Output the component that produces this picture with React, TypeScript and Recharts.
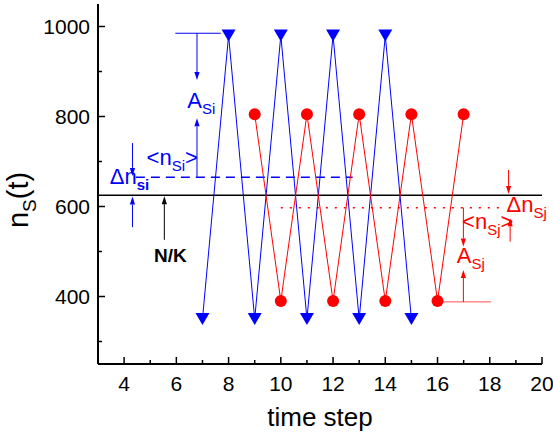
import React from 'react';
import { ComposedChart, Line, XAxis, YAxis, ReferenceLine, ReferenceDot } from 'recharts';

// values
const blueSteps = [7, 8, 9, 10, 11, 12, 13, 14, 15];
const blueValues = [350, 980, 350, 980, 350, 980, 350, 980, 350];
const redSteps = [9, 10, 11, 12, 13, 14, 15, 16, 17];
const redValues = [805, 390, 805, 390, 805, 390, 805, 390, 805];

const xTicks = [4, 5, 6, 7, 8, 9, 10, 11, 12, 13, 14, 15, 16, 17, 18, 19, 20];
const xLabelled = [4, 6, 8, 10, 12, 14, 16, 18, 20];
const yTicks = [300, 400, 500, 600, 700, 800, 900, 1000];
const yLabelled = [400, 600, 800, 1000];

const nOverK = 625;
const blueMean = 665;
const redMean = 597.5;

const BLUE = '#0000ff';
const RED = '#ff0000';
const FONT = '"Liberation Sans", Arial, sans-serif';

type Arrow = { from: [number, number]; to: [number, number]; color: string; head: boolean };
const arrows: Arrow[] = [
  { from: [5.96, 985], to: [7.7, 985], color: BLUE, head: false },
  { from: [6.79, 985], to: [6.79, 881], color: BLUE, head: true },
  { from: [6.79, blueMean], to: [6.79, 796], color: BLUE, head: true },
  { from: [4.32, 741], to: [4.32, 668], color: BLUE, head: true },
  { from: [4.32, 554], to: [4.32, 622], color: BLUE, head: true },
  { from: [5.54, 526], to: [5.54, 623], color: '#000000', head: true },
  { from: [16, 388], to: [18.06, 388], color: '#ff5050', head: false },
  { from: [16.99, 388], to: [16.99, 459], color: RED, head: true },
  { from: [16.99, redMean], to: [16.99, 511], color: RED, head: true },
  { from: [18.72, 681], to: [18.72, 628], color: RED, head: true },
  { from: [18.78, 522], to: [18.78, 574], color: RED, head: true },
];

type Note = { x: number; y: number; color: string; main: string; sub?: string; tail?: string; subBold?: boolean; bold?: boolean; anchor?: 'start' | 'middle' };
const notes: Note[] = [
  { x: 6.42, y: 820, color: BLUE, main: 'A', sub: 'Si' },
  { x: 4.86, y: 692, color: BLUE, main: '<n', sub: 'Si', tail: '>' },
  { x: 3.45, y: 650, color: BLUE, main: 'Δn', sub: 'si', subBold: true },
  { x: 5.77, y: 477, color: '#000000', main: 'N/K', bold: true, anchor: 'middle' },
  { x: 18.64, y: 587, color: RED, main: 'Δn', sub: 'Sj' },
  { x: 16.94, y: 550, color: RED, main: '<n', sub: 'Sj', tail: '>' },
  { x: 16.74, y: 474, color: RED, main: 'A', sub: 'Sj' },
];

const blueData = blueSteps.map((x, i) => ({ x, y: blueValues[i] }));
const redData = redSteps.map((x, i) => ({ x, y: redValues[i] }));

const tickText = { fontSize: 21, fontFamily: FONT, fill: '#000' };

const BottomTick = ({ x, y, payload }: any) => {
  const major = xLabelled.includes(payload.value);
  return (
    <g>
      <line x1={x} x2={x} y1={y} y2={y - (major ? 7 : 4)} stroke="#000" strokeWidth={1.5} />
      {major && (
        <text x={x} y={y + 27} textAnchor="middle" {...tickText}>
          {payload.value}
        </text>
      )}
    </g>
  );
};

const TopTick = ({ x, y, payload }: any) => {
  const major = xLabelled.includes(payload.value);
  return <line x1={x} x2={x} y1={y} y2={y + (major ? 7 : 4)} stroke="#000" strokeWidth={1.5} />;
};

const LeftTick = ({ x, y, payload }: any) => {
  const major = yLabelled.includes(payload.value);
  return (
    <g>
      <line x1={x} x2={x + (major ? 7 : 4)} y1={y} y2={y} stroke="#000" strokeWidth={1.5} />
      {major && (
        <text x={x - 8} y={y + 7.5} textAnchor="end" {...tickText}>
          {payload.value}
        </text>
      )}
    </g>
  );
};

const RightTick = ({ x, y, payload }: any) => {
  const major = yLabelled.includes(payload.value);
  return <line x1={x} x2={x - (major ? 7 : 4)} y1={y} y2={y} stroke="#000" strokeWidth={1.5} />;
};

const TriangleDown = (props: any) => {
  const { cx, cy, index } = props;
  return (
    <polygon
      key={`tri-${index}`}
      points={`${cx - 7},${cy - 6} ${cx + 7},${cy - 6} ${cx},${cy + 6}`}
      fill={BLUE}
    />
  );
};

const arrowShape = (a: Arrow) => (p: any) => {
  const { x1, y1, x2, y2 } = p;
  if (!a.head) {
    return <line x1={x1} y1={y1} x2={x2} y2={y2} stroke={a.color} strokeWidth={1} />;
  }
  const dx = x2 - x1;
  const dy = y2 - y1;
  const len = Math.hypot(dx, dy) || 1;
  const ux = dx / len;
  const uy = dy / len;
  const hl = 8;
  const hw = 2.6;
  const bx = x2 - ux * hl;
  const by = y2 - uy * hl;
  return (
    <g>
      <line x1={x1} y1={y1} x2={bx} y2={by} stroke={a.color} strokeWidth={1} />
      <polygon
        points={`${x2},${y2} ${bx - uy * hw},${by + ux * hw} ${bx + uy * hw},${by - ux * hw}`}
        fill={a.color}
      />
    </g>
  );
};

const noteShape = (n: Note) => (p: any) => (
  <text
    x={p.cx}
    y={p.cy}
    fill={n.color}
    fontFamily={FONT}
    textAnchor={n.anchor ?? 'start'}
    fontWeight={n.bold ? 'bold' : 'normal'}
  >
    <tspan fontSize={n.bold ? 19 : 22}>{n.main}</tspan>
    {n.sub && (
      <tspan fontSize={15} dy={6} fontWeight={n.subBold ? 'bold' : 'normal'}>
        {n.sub}
      </tspan>
    )}
    {n.tail && (
      <tspan fontSize={22} dy={-6}>
        {n.tail}
      </tspan>
    )}
  </text>
);

export default function App() {
  return (
    <div style={{ position: 'absolute', left: 0, top: 0, background: '#fff' }}>
      <ComposedChart width={553} height={438} margin={{ top: 4, right: 11, bottom: 0, left: 0 }}>
        <XAxis
          dataKey="x"
          type="number"
          domain={[3, 20]}
          ticks={xTicks}
          interval={0}
          height={74}
          tickSize={0}
          tickMargin={0}
          tickLine={false}
          axisLine={{ stroke: '#000', strokeWidth: 2 }}
          tick={<BottomTick />}
          label={{
            content: (lp: any) => (
              <text
                x={lp.viewBox.x + lp.viewBox.width / 2}
                y={lp.viewBox.y + 62}
                textAnchor="middle"
                fontSize={26}
                fontFamily={FONT}
                fill="#000"
              >
                time step
              </text>
            ),
          }}
        />
        <XAxis
          xAxisId="t"
          orientation="top"
          dataKey="x"
          type="number"
          domain={[3, 20]}
          ticks={xTicks}
          interval={0}
          height={0}
          tickSize={0}
          tickMargin={0}
          tickLine={false}
          axisLine={{ stroke: '#000', strokeWidth: 2 }}
          tick={<TopTick />}
        />
        <YAxis
          type="number"
          domain={[250, 1050]}
          ticks={yTicks}
          interval={0}
          width={98}
          tickSize={0}
          tickMargin={0}
          tickLine={false}
          axisLine={{ stroke: '#000', strokeWidth: 2 }}
          tick={<LeftTick />}
          label={{
            content: (lp: any) => (
              <text
                x={28}
                y={lp.viewBox.y + 196}
                transform={`rotate(-90, 28, ${lp.viewBox.y + 196})`}
                textAnchor="middle"
                fontFamily={FONT}
                fill="#000"
              >
                <tspan fontSize={29}>n</tspan>
                <tspan fontSize={19} dy={8}>S</tspan>
                <tspan fontSize={29} dy={-8}>(t)</tspan>
              </text>
            ),
          }}
        />
        <YAxis
          yAxisId="r"
          orientation="right"
          type="number"
          domain={[250, 1050]}
          ticks={yTicks}
          interval={0}
          width={0}
          tickSize={0}
          tickMargin={0}
          tickLine={false}
          axisLine={{ stroke: '#000', strokeWidth: 2 }}
          tick={<RightTick />}
        />

        <ReferenceLine y={nOverK} stroke="#000" strokeWidth={1.5} />
        <ReferenceLine
          segment={[{ x: 4.45, y: blueMean }, { x: 12.75, y: blueMean }]}
          stroke={BLUE}
          strokeWidth={1.5}
          strokeDasharray="9 6"
        />
        <ReferenceLine
          segment={[{ x: 10, y: redMean }, { x: 18.6, y: redMean }]}
          stroke={RED}
          strokeWidth={1.5}
          strokeDasharray="2 7"
        />

        <Line
          data={blueData}
          dataKey="y"
          stroke={BLUE}
          strokeWidth={1}
          dot={(p: any) => <TriangleDown {...p} />}
          activeDot={false}
          isAnimationActive={false}
        />
        <Line
          data={redData}
          dataKey="y"
          stroke={RED}
          strokeWidth={1}
          dot={{ r: 6, fill: RED, stroke: RED, strokeWidth: 0 }}
          activeDot={false}
          isAnimationActive={false}
        />

        {arrows.map((a, i) => (
          <ReferenceLine
            key={`arr-${i}`}
            segment={[{ x: a.from[0], y: a.from[1] }, { x: a.to[0], y: a.to[1] }]}
            stroke={a.color}
            shape={arrowShape(a)}
          />
        ))}
        {notes.map((n, i) => (
          <ReferenceDot
            key={`note-${i}`}
            x={n.x}
            y={n.y}
            r={0}
            ifOverflow="visible"
            shape={noteShape(n)}
          />
        ))}
      </ComposedChart>
    </div>
  );
}
